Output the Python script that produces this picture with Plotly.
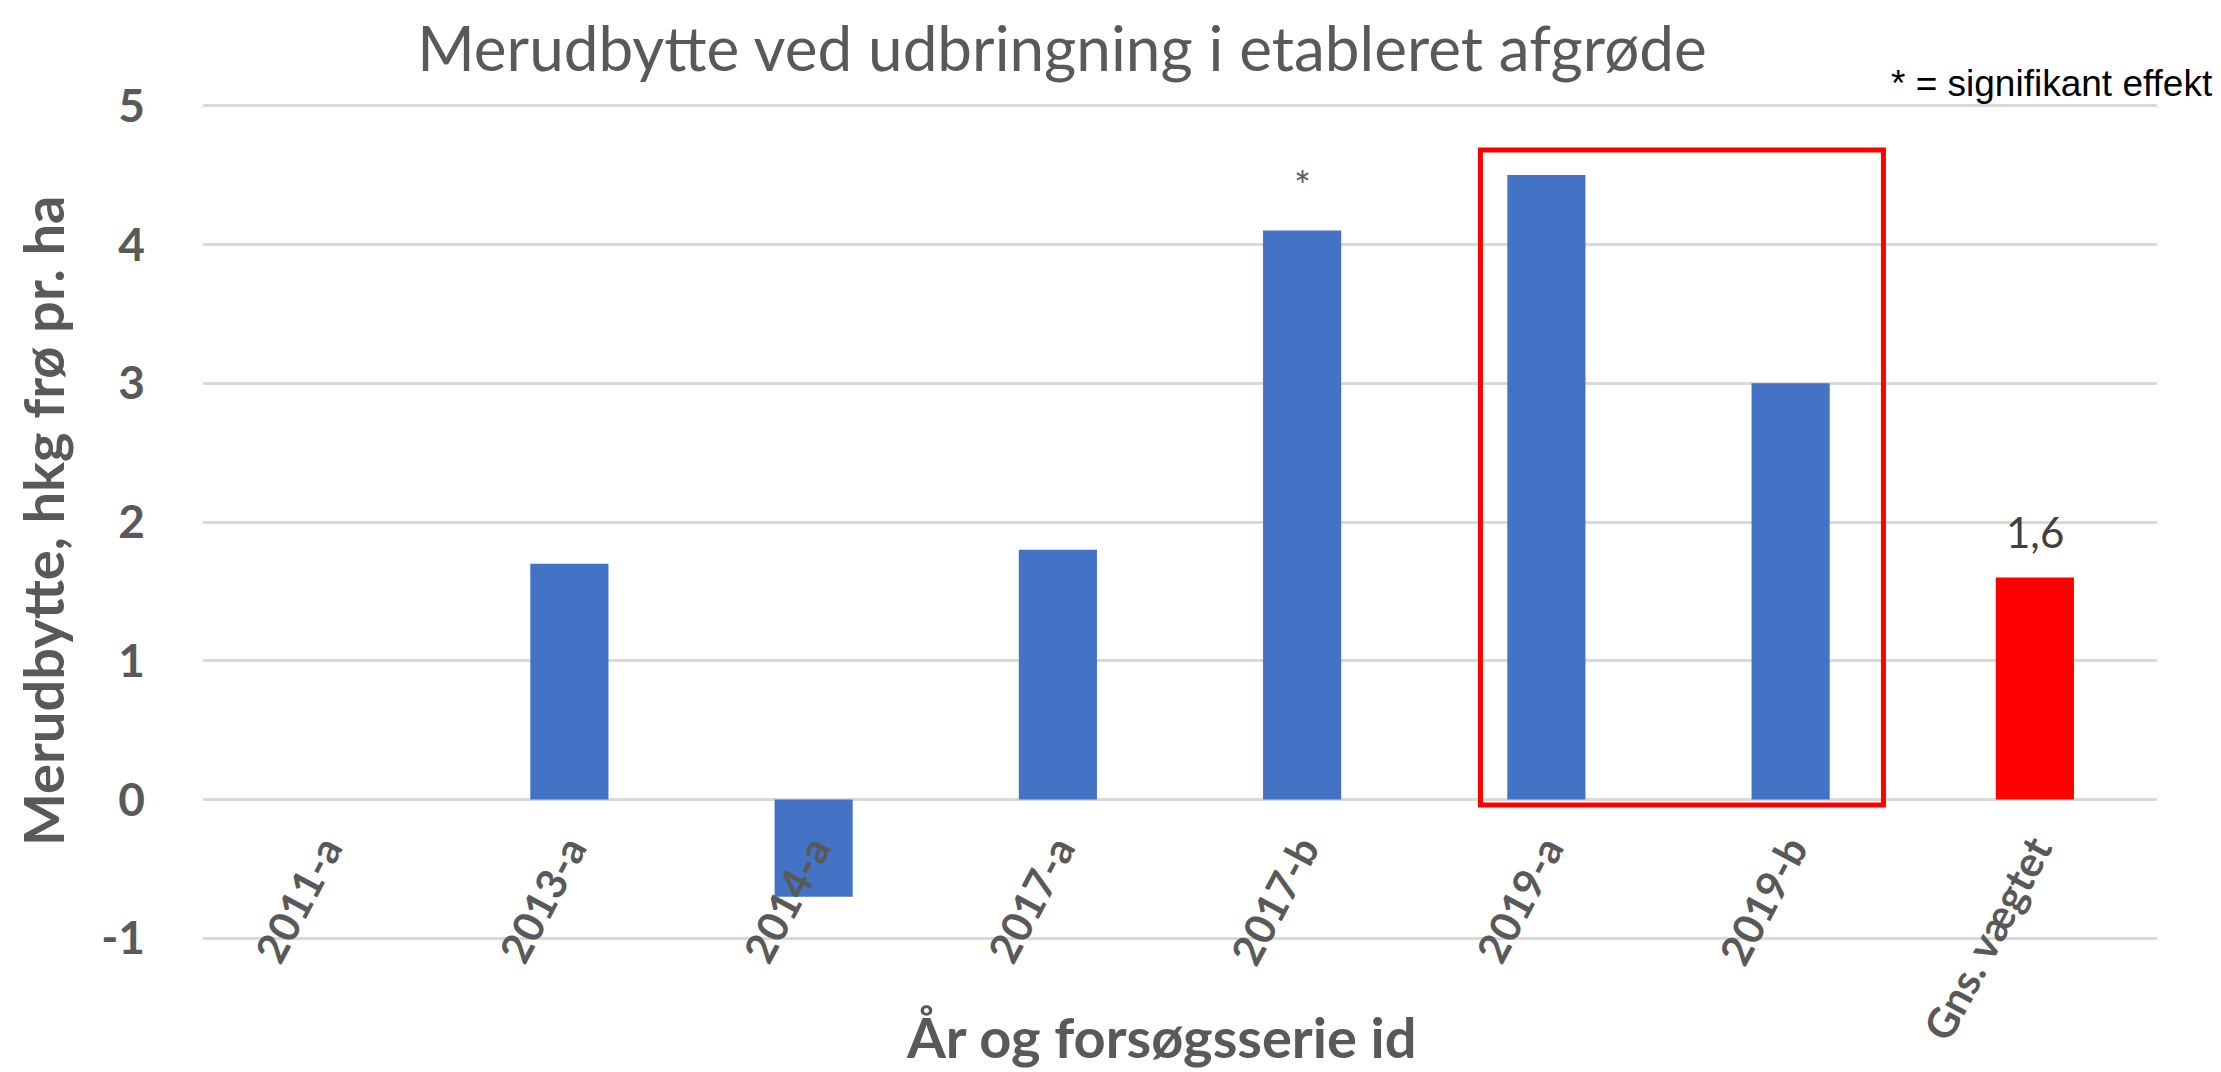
import plotly.graph_objects as go

categories = ["2011-a", "2013-a", "2014-a", "2017-a", "2017-b", "2019-a", "2019-b", "Gns. vægtet"]
values = [0.0, 1.7, -0.7, 1.8, 4.1, 4.5, 3.0, 1.6]
bar_colors = ["#4472C4"] * 7 + ["#FF0000"]
y_ticks = [-1, 0, 1, 2, 3, 4, 5]

title_text = "Merudbytte ved udbringning i etableret afgrøde"
y_title = "Merudbytte, hkg frø pr. ha"
x_title = "År og forsøgsserie id"
note_text = "* = signifikant effekt"
avg_label = "1,6"
sig_index = 4

# page body has an 8px margin, so the figure is drawn 8px smaller and offset
OFF = 8
W, H = 2221 - OFF, 1072 - OFF
ML, MR, MT, MB = 195, 64, 96, 132
PW = W - ML - MR
PH = H - MT - MB

def px_x(px):
    return (px - OFF - ML) / PW

def px_y(py):
    return (H - MB - (py - OFF)) / PH

fig = go.Figure()
fig.add_trace(go.Bar(
    x=categories, y=values,
    marker=dict(color=bar_colors, line=dict(width=0)),
    width=0.32,
    showlegend=False,
    hoverinfo="x+y",
))

grey = "#595959"

fig.update_layout(
    width=W, height=H,
    margin=dict(l=ML, r=MR, t=MT, b=MB, autoexpand=False),
    paper_bgcolor="white", plot_bgcolor="white",
    font=dict(family="Lato", color=grey),
    title=dict(
        text=title_text,
        font=dict(family="Lato", size=62, color=grey),
        x=(1062 - OFF) / W, xanchor="center",
        xref="container", yref="container",
        y=1 - 41.5 / H, yanchor="middle",
    ),
    xaxis=dict(
        type="category",
        anchor="free", position=1 / 6,
        showgrid=False, showline=False, zeroline=False,
        ticks="", tickangle=-62,
        tickfont=dict(family="Lato", size=42, color=grey, weight="bold"),
        ticklabelstandoff=15,
        automargin=False,
    ),
    yaxis=dict(
        range=[-1.012, 5.012],
        tickvals=y_ticks,
        ticktext=[str(v) for v in y_ticks],
        showgrid=True, gridcolor="#D9D9D9", gridwidth=3,
        zeroline=True, zerolinecolor="#D9D9D9", zerolinewidth=3,
        showline=False, ticks="",
        tickfont=dict(family="Lato", size=46, color=grey, weight="bold"),
        ticklabelstandoff=57,
        automargin=False,
    ),
    bargap=0.68,
)

fig.add_shape(
    type="rect", xref="x", yref="y",
    x0=4.73, x1=6.38, y0=-0.04, y1=4.68,
    line=dict(color="#FF0000", width=5),
    fillcolor="rgba(0,0,0,0)",
    layer="above",
)

fig.add_annotation(
    text=y_title, textangle=-90,
    xref="paper", yref="paper",
    x=px_x(42), y=px_y(521),
    xanchor="center", yanchor="middle",
    showarrow=False,
    font=dict(family="Lato", size=56, color=grey, weight="bold"),
)
fig.add_annotation(
    text=x_title,
    xref="paper", yref="paper",
    x=px_x(1161), y=px_y(1036),
    xanchor="center", yanchor="middle",
    showarrow=False,
    font=dict(family="Lato", size=56, color=grey, weight="bold"),
)
fig.add_annotation(
    text=note_text,
    xref="paper", yref="paper",
    x=px_x(2215), y=px_y(84),
    xanchor="right", yanchor="middle",
    showarrow=False,
    font=dict(family="Liberation Sans", size=37, color="black"),
)
fig.add_annotation(
    text=avg_label,
    xref="x", yref="y",
    x=categories[-1], y=1.93,
    xanchor="center", yanchor="middle",
    showarrow=False,
    font=dict(family="Lato", size=42, color="#404040"),
)
fig.add_annotation(
    text="*",
    xref="x", yref="y",
    x=categories[sig_index], y=4.42,
    xanchor="center", yanchor="middle",
    showarrow=False,
    font=dict(family="Lato", size=40, color=grey),
)

fig.write_html("out.html")
